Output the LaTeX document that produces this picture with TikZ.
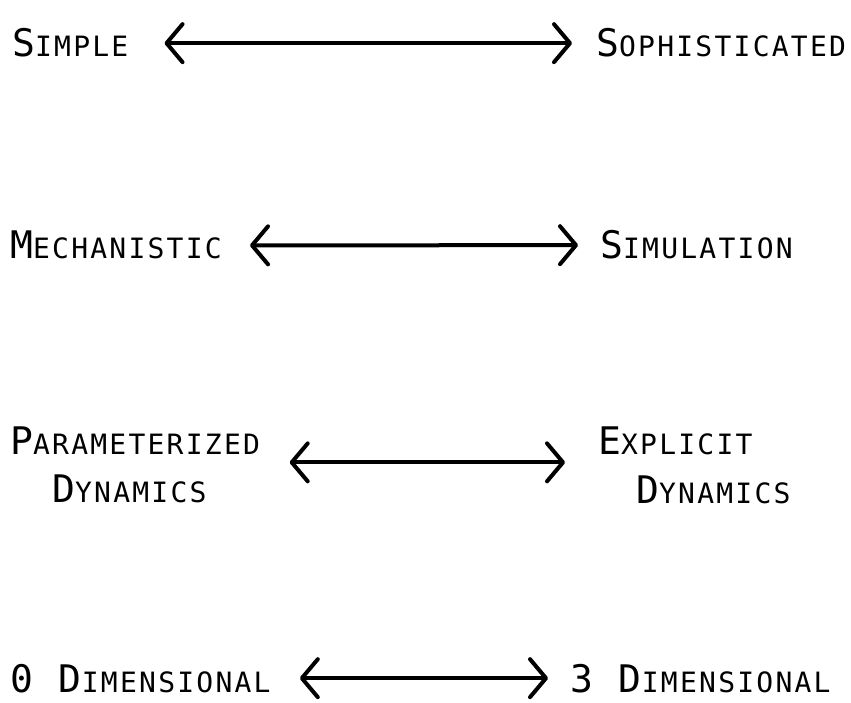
\documentclass[tikz,border=0pt]{standalone}
\usepackage{fontspec}
\usepackage{tikz}
\usetikzlibrary{arrows.meta}
\newfontfamily\letterfont[LetterSpace=8]{DejaVu Sans Mono}

% big first letter, small caps for the rest
\newcommand{\scword}[2]{{\fontsize{38}{38}\selectfont #1}{\fontsize{28}{28}\selectfont #2}}

\tikzset{
  lbl/.style={inner sep=0pt, anchor=base west, font=\letterfont},
  biarrow/.style={line width=4pt, line cap=round,
    {Straight Barb[length=16pt, width=38pt, round]}-{Straight Barb[length=16pt, width=38pt, round]}}
}

\begin{document}
\begin{tikzpicture}[x=1pt, y=-1pt]
        \useasboundingbox (0,0) rectangle (851,702);

        % Row 1
        \node[lbl] (simple) at (12,56) {\scword{S}{IMPLE}};
        \node[lbl] (soph) at (596,56) {\scword{S}{OPHISTICATED}};
        \draw[biarrow] ([xshift=36pt, yshift=-1pt]simple.east) -- ([xshift=-24pt, yshift=-1pt]soph.west);

        % Row 2
        \node[lbl] (mech) at (10,258) {\scword{M}{ECHANISTIC}};
        \node[lbl] (simu) at (600,258) {\scword{S}{IMULATION}};
        \draw[biarrow] ([xshift=28pt, yshift=-1pt]mech.east) -- ([xshift=-22pt, yshift=-1pt]simu.west);

        % Row 3 (two lines each side)
        \node[lbl] (para) at (10,454) {\scword{P}{ARAMETERIZED}};
        \node[lbl] (dynl) at (52,502) {\scword{D}{YNAMICS}};
        \node[lbl] (expl) at (598,454) {\scword{E}{XPLICIT}};
        \node[lbl] (dynr) at (636,503) {\scword{D}{YNAMICS}};
        \draw[biarrow] ([xshift=83pt, yshift=26pt]dynl.east) -- ([xshift=-71pt, yshift=27pt]dynr.west);

        % Row 4
        \node[lbl] (zero) at (10,692) {\scword{0\ D}{IMENSIONAL}};
        \node[lbl] (three) at (570,692) {\scword{3\ D}{IMENSIONAL}};
        \draw[biarrow] ([xshift=29pt]zero.east) -- ([xshift=-22pt]three.west);
\end{tikzpicture}
\end{document}
